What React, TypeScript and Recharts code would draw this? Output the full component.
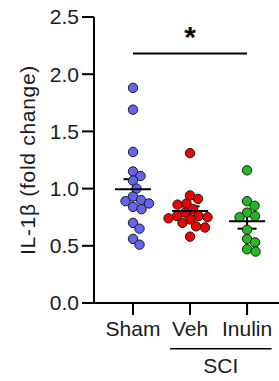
import React from 'react';
import { ScatterChart, Scatter, XAxis, YAxis, ReferenceLine, ErrorBar } from 'recharts';

// ---------- data ----------
const categories = ['Sham', 'Veh', 'Inulin'];
const shamValues = [1.88, 1.69, 1.32, 1.15, 1.11, 1.07, 1.0, 0.93, 0.9, 0.89, 0.87, 0.84, 0.82, 0.7, 0.65, 0.56, 0.51];
const vehValues = [1.31, 0.94, 0.91, 0.87, 0.86, 0.82, 0.79, 0.76, 0.76, 0.75, 0.74, 0.73, 0.7, 0.67, 0.66, 0.58];
const inulinValues = [1.16, 0.89, 0.85, 0.79, 0.76, 0.75, 0.64, 0.56, 0.53, 0.47, 0.45];
const yTicks = [0, 0.5, 1.0, 1.5, 2.0, 2.5];
const xTicks = [1, 2, 3];
const groupColors = ['#6464f0', '#f00000', '#22b822'];
const significanceY = 2.18;
const yLabel = 'IL-1β (fold change)';
const bracketLabel = 'SCI';

// ---------- layout ----------
const W = 279;
const H = 381;
const MARGIN = { top: 17, right: 0, bottom: 38, left: 0 };
const YAXIS_W = 94;
const XAXIS_H = 40;
const X_DOMAIN: [number, number] = [0.316, 3.56];
const Y_DOMAIN: [number, number] = [0, 2.5];
const FONT = 'Arial, "Liberation Sans", Helvetica, sans-serif';
const FS = 21;
const plotW = W - MARGIN.left - MARGIN.right - YAXIS_W;
const plotH = H - MARGIN.top - MARGIN.bottom - XAXIS_H;
const pxPerX = plotW / (X_DOMAIN[1] - X_DOMAIN[0]);
const pxPerY = plotH / (Y_DOMAIN[1] - Y_DOMAIN[0]);
const DOT_R = 4.7;
const DOT_GAP = 8.6;

// beeswarm: place each point at the smallest horizontal offset that avoids overlap
function swarm(values: number[], center: number) {
  const order = values.map((v, i) => i).sort((a, b) => values[b] - values[a]);
  const placed: { x: number; y: number }[] = [];
  const out: { x: number; y: number }[] = new Array(values.length);
  for (const i of order) {
    const yPx = values[i] * pxPerY;
    let chosen = 0;
    for (let step = 0; step < 200; step++) {
      const cands = step === 0 ? [0] : [step * 0.5, -step * 0.5];
      let found: number | null = null;
      for (const c of cands) {
        const ok = placed.every((p) => Math.hypot(p.x - c, p.y - yPx) >= DOT_GAP);
        if (ok) {
          found = c;
          break;
        }
      }
      if (found !== null) {
        chosen = found;
        break;
      }
    }
    placed.push({ x: chosen, y: yPx });
    out[i] = { x: center + chosen / pxPerX, y: values[i] };
  }
  return out;
}

const groups = [shamValues, vehValues, inulinValues];
const swarmData = groups.map((vals, gi) => swarm(vals, xTicks[gi]));

const meanData = groups.map((vals, gi) => {
  const n = vals.length;
  const mean = vals.reduce((a, b) => a + b, 0) / n;
  const sd = Math.sqrt(vals.reduce((a, b) => a + (b - mean) ** 2, 0) / (n - 1));
  return { x: xTicks[gi], y: mean, sem: sd / Math.sqrt(n) };
});

const Dot = (color: string) => (props: any) => {
  const { cx, cy } = props;
  if (cx == null || cy == null) return null;
  return <circle cx={cx} cy={cy} r={DOT_R} fill={color} stroke="#1a1a1a" strokeWidth={1} />;
};

const MeanLine = (props: any) => {
  const { cx, cy } = props;
  if (cx == null || cy == null) return null;
  return <line x1={cx - 18} x2={cx + 18} y1={cy} y2={cy} stroke="#000" strokeWidth={2} />;
};

const YLabel = (props: any) => {
  const vb = props.viewBox || { x: 0, y: MARGIN.top, height: plotH };
  const cx = 27;
  const cy = vb.y + vb.height / 2;
  return (
    <text
      x={cx}
      y={cy}
      transform={`rotate(-90, ${cx}, ${cy})`}
      textAnchor="middle"
      dominantBaseline="central"
      fontSize={21}
      letterSpacing={0.7}
      fontFamily={FONT}
      fill="#1a1a1a"
    >
      {yLabel}
    </text>
  );
};

export default function App() {
  return (
    <div style={{ position: 'absolute', left: 0, top: 0, width: W, height: H, background: '#fff' }}>
      <ScatterChart width={W} height={H} margin={MARGIN}>
        <XAxis
          type="number"
          dataKey="x"
          domain={X_DOMAIN}
          ticks={xTicks}
          allowDataOverflow
          height={XAXIS_H}
          tickFormatter={(v: number) => categories[v - 1] ?? ''}
          tick={{ fontSize: FS, fill: '#1a1a1a', fontFamily: FONT }}
          tickSize={12}
          tickMargin={6}
          axisLine={{ stroke: '#000', strokeWidth: 2 }}
          tickLine={{ stroke: '#000', strokeWidth: 2 }}
          interval={0}
        />
        <YAxis
          type="number"
          dataKey="y"
          domain={Y_DOMAIN}
          ticks={yTicks}
          allowDataOverflow
          width={YAXIS_W}
          tickFormatter={(v: number) => v.toFixed(1)}
          tick={{ fontSize: FS, fill: '#1a1a1a', fontFamily: FONT }}
          tickSize={12}
          tickMargin={3}
          axisLine={{ stroke: '#000', strokeWidth: 2 }}
          tickLine={{ stroke: '#000', strokeWidth: 2 }}
          label={<YLabel />}
        />
        {swarmData.map((d, gi) => (
          <Scatter
            key={categories[gi]}
            data={d}
            fill={groupColors[gi]}
            shape={Dot(groupColors[gi])}
            isAnimationActive={false}
          />
        ))}
        <Scatter data={meanData} shape={MeanLine} isAnimationActive={false}>
          <ErrorBar dataKey="sem" direction="y" width={9.5} stroke="#000" strokeWidth={2} isAnimationActive={false} />
        </Scatter>
        <ReferenceLine
          segment={[
            { x: xTicks[0], y: significanceY },
            { x: xTicks[2], y: significanceY },
          ]}
          stroke="#000"
          strokeWidth={2}
          ifOverflow="visible"
          label={{ value: '*', position: 'top', offset: 7, fontSize: 30, fontWeight: 'bold', fill: '#000', fontFamily: FONT }}
        />
        <ReferenceLine
          segment={[
            { x: xTicks[1] - 0.35, y: -0.4 },
            { x: xTicks[2] + 0.43, y: -0.4 },
          ]}
          stroke="#000"
          strokeWidth={1.5}
          ifOverflow="visible"
          label={{ value: bracketLabel, position: 'bottom', offset: 9, fontSize: FS, fill: '#1a1a1a', fontFamily: FONT }}
        />
      </ScatterChart>
    </div>
  );
}
